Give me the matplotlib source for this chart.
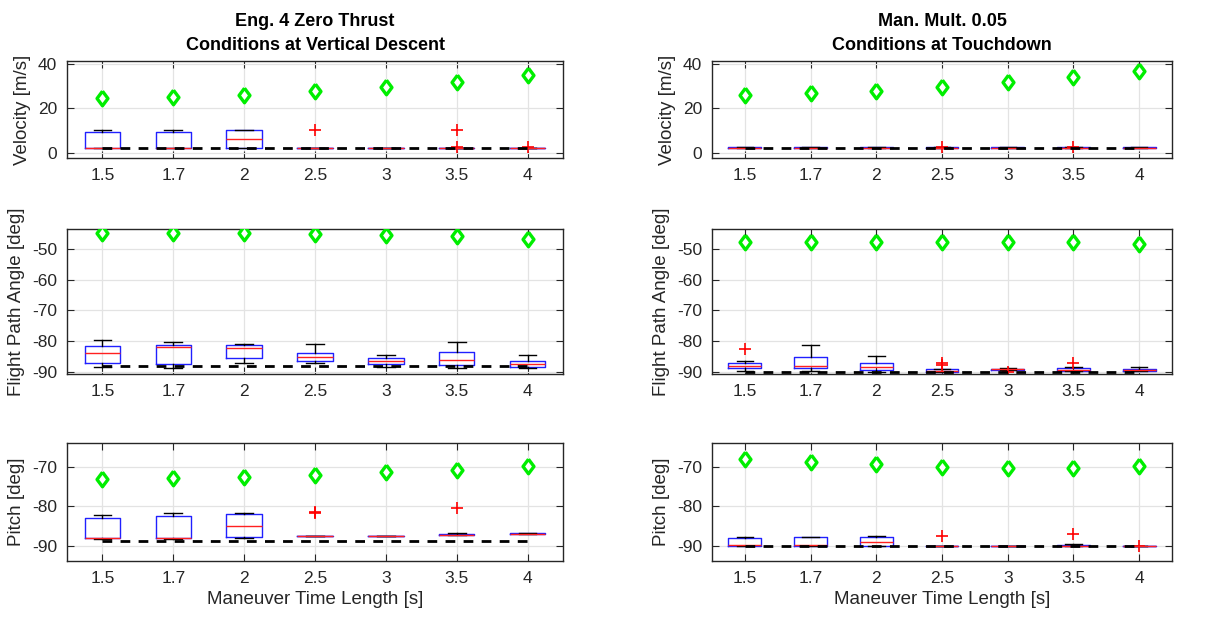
import numpy as np
import matplotlib
matplotlib.use("Agg")
import matplotlib.pyplot as plt

plt.rcParams['font.family'] = ['Liberation Sans', 'DejaVu Sans']
plt.rcParams['axes.unicode_minus'] = False

# x categories (maneuver time length)
times = ['1.5', '1.7', '2', '2.5', '3', '3.5', '4']

# ---------- left column: Eng. 4 Zero Thrust, vertical descent ----------
L_vel_diamond = [24.6, 25.0, 26.1, 27.7, 29.8, 32.0, 35.1]
L_vel_ref = 2.5
L_vel_q1 = [2.5, 2.5, 2.5, 2.5, 2.5, 2.5, 2.5]
L_vel_med = [2.5, 2.5, 6.1, 2.5, 2.5, 2.5, 2.5]
L_vel_q3 = [9.3, 9.6, 10.2, 2.5, 2.5, 2.5, 2.5]
L_vel_lo = [2.5, 2.5, 2.5, 2.5, 2.5, 2.5, 2.5]
L_vel_hi = [10.2, 10.3, 10.4, 2.5, 2.5, 2.5, 2.5]
L_vel_out = [[], [], [], [10.2], [], [10.5, 2.8], [2.6]]

L_fpa_diamond = [-44.6, -44.6, -44.8, -45.0, -45.3, -45.7, -46.6]
L_fpa_ref = -88.2
L_fpa_q1 = [-87.2, -87.4, -85.5, -86.6, -87.6, -87.9, -88.5]
L_fpa_med = [-83.9, -81.9, -82.2, -85.3, -86.5, -86.3, -87.5]
L_fpa_q3 = [-81.7, -81.4, -81.4, -84.0, -85.6, -83.7, -86.6]
L_fpa_lo = [-88.5, -88.8, -87.3, -87.3, -88.4, -88.7, -88.7]
L_fpa_hi = [-79.7, -80.2, -81.0, -80.9, -84.5, -80.3, -84.6]
L_fpa_out = [[], [], [], [], [], [], []]

L_pit_diamond = [-73.1, -72.9, -72.5, -72.0, -71.3, -70.7, -69.9]
L_pit_ref = -88.8
L_pit_q1 = [-88.0, -88.1, -87.8, -87.6, -87.5, -87.3, -86.95]
L_pit_med = [-88.0, -87.9, -85.0, -87.6, -87.5, -87.2, -86.9]
L_pit_q3 = [-83.0, -82.5, -82.0, -87.6, -87.5, -87.1, -86.85]
L_pit_lo = [-88.3, -88.2, -88.0, -87.6, -87.5, -87.3, -86.95]
L_pit_hi = [-82.1, -81.8, -81.8, -87.6, -87.5, -86.8, -86.8]
L_pit_out = [[], [], [], [-81.3, -81.6], [], [-80.4], []]

# ---------- right column: Man. Mult. 0.05, touchdown ----------
R_vel_diamond = [26.2, 27.0, 28.0, 29.8, 31.8, 34.1, 36.9]
R_vel_ref = 2.5
R_vel_q1 = [2.5] * 7
R_vel_med = [2.5] * 7
R_vel_q3 = [2.6] * 7
R_vel_lo = [2.5] * 7
R_vel_hi = [2.6] * 7
R_vel_out = [[], [], [], [2.8], [], [2.8], []]

R_fpa_diamond = [-47.7, -47.7, -47.7, -47.7, -47.7, -47.7, -48.4]
R_fpa_ref = -90.0
R_fpa_q1 = [-88.8, -88.8, -89.5, -90.0, -89.5, -89.7, -89.7]
R_fpa_med = [-88.1, -88.3, -88.6, -89.7, -89.3, -89.4, -89.4]
R_fpa_q3 = [-87.2, -85.2, -87.2, -89.3, -89.2, -88.7, -89.2]
R_fpa_lo = [-89.7, -89.7, -90.0, -90.0, -89.6, -89.9, -89.9]
R_fpa_hi = [-86.6, -81.2, -85.0, -89.3, -88.8, -88.4, -88.5]
R_fpa_out = [[-82.5], [], [], [-87.1, -88.0], [-90.0], [-87.1], []]

R_pit_diamond = [-68.1, -68.7, -69.3, -70.1, -70.3, -70.3, -69.9]
R_pit_ref = -90.0
R_pit_q1 = [-90.0, -90.0, -90.0, -90.0, -90.0, -90.0, -90.0]
R_pit_med = [-89.8, -89.8, -89.0, -90.0, -90.0, -90.0, -90.0]
R_pit_q3 = [-88.1, -87.8, -87.8, -90.0, -90.0, -89.8, -90.0]
R_pit_lo = [-90.0, -90.0, -90.0, -90.0, -90.0, -90.0, -90.0]
R_pit_hi = [-87.7, -87.7, -87.5, -90.0, -90.0, -89.6, -90.0]
R_pit_out = [[], [], [], [-87.5], [], [-87.0], [-90.0]]

txt = '#262626'
# matlab-like diamond, a bit narrower than tall
diamond_marker = [(0, 1), (0.75, 0), (0, -1), (-0.75, 0), (0, 1)]


def draw(ax, q1, med, q3, lo, hi, out, diamond, ref, ylim, yticks, ylabel):
    stats = []
    for i in range(len(times)):
        stats.append(dict(q1=q1[i], med=med[i], q3=q3[i], whislo=lo[i],
                          whishi=hi[i], fliers=out[i]))
    pos = np.arange(1, len(times) + 1)
    ax.bxp(stats, positions=pos, widths=0.5, showfliers=True,
           boxprops=dict(color='#2020ff', lw=1.0),
           medianprops=dict(color='#ff2020', lw=1.0),
           whiskerprops=dict(color='k', lw=1.0, ls='-'),
           capprops=dict(color='k', lw=1.0),
           flierprops=dict(marker='+', markeredgecolor='#ff0000',
                           markersize=8, mew=1.2, ls='none'))
    ax.plot([pos[0], pos[-1]], [ref, ref], color='k', lw=2.0,
            dashes=(3.5, 3.0), zorder=4)
    ax.plot(pos, diamond, ls='none', marker=diamond_marker, markersize=10.5,
            mfc='white', mec='#00ee00', mew=2.4, zorder=5)
    ax.set_xlim(0.5, 7.5)
    ax.set_ylim(*ylim)
    ax.set_yticks(yticks)
    ax.set_xticks(pos)
    ax.set_xticklabels(times)
    ax.grid(True, color='#e3e3e3', lw=0.9)
    ax.set_axisbelow(True)
    ax.tick_params(direction='in', top=True, right=True, length=5,
                   labelsize=12.5, colors=txt, pad=7)
    for s in ax.spines.values():
        s.set_color(txt)
        s.set_linewidth(1.0)
    ax.set_ylabel(ylabel, fontsize=13.5, color=txt, labelpad=5)


fig = plt.figure(figsize=(12.21, 6.28), dpi=100)

lx, lw_ = 67 / 1221, 496 / 1221
rx, rw = 712 / 1221, 460 / 1221
rows = [(1 - 158 / 628, 97 / 628), (1 - 374 / 628, 145 / 628),
        (1 - 561 / 628, 118 / 628)]

vel_lim = (-2.2, 41.3)
fpa_lim = (-90.8, -43.4)
pit_lim = (-93.8, -64.0)

ax = fig.add_axes([lx, rows[0][0], lw_, rows[0][1]])
draw(ax, L_vel_q1, L_vel_med, L_vel_q3, L_vel_lo, L_vel_hi, L_vel_out,
     L_vel_diamond, L_vel_ref, vel_lim, [0, 20, 40], 'Velocity [m/s]')
ax.set_title('Eng. 4 Zero Thrust\nConditions at Vertical Descent',
             fontsize=13, fontweight='bold', linespacing=1.5, pad=8)

ax = fig.add_axes([lx, rows[1][0], lw_, rows[1][1]])
draw(ax, L_fpa_q1, L_fpa_med, L_fpa_q3, L_fpa_lo, L_fpa_hi, L_fpa_out,
     L_fpa_diamond, L_fpa_ref, fpa_lim, [-90, -80, -70, -60, -50],
     'Flight Path Angle [deg]')

ax = fig.add_axes([lx, rows[2][0], lw_, rows[2][1]])
draw(ax, L_pit_q1, L_pit_med, L_pit_q3, L_pit_lo, L_pit_hi, L_pit_out,
     L_pit_diamond, L_pit_ref, pit_lim, [-90, -80, -70], 'Pitch [deg]')
ax.set_xlabel('Maneuver Time Length [s]', fontsize=13.5, color=txt)

ax = fig.add_axes([rx, rows[0][0], rw, rows[0][1]])
draw(ax, R_vel_q1, R_vel_med, R_vel_q3, R_vel_lo, R_vel_hi, R_vel_out,
     R_vel_diamond, R_vel_ref, vel_lim, [0, 20, 40], 'Velocity [m/s]')
ax.set_title('Man. Mult. 0.05\nConditions at Touchdown',
             fontsize=13, fontweight='bold', linespacing=1.5, pad=8)

ax = fig.add_axes([rx, rows[1][0], rw, rows[1][1]])
draw(ax, R_fpa_q1, R_fpa_med, R_fpa_q3, R_fpa_lo, R_fpa_hi, R_fpa_out,
     R_fpa_diamond, R_fpa_ref, fpa_lim, [-90, -80, -70, -60, -50],
     'Flight Path Angle [deg]')

ax = fig.add_axes([rx, rows[2][0], rw, rows[2][1]])
draw(ax, R_pit_q1, R_pit_med, R_pit_q3, R_pit_lo, R_pit_hi, R_pit_out,
     R_pit_diamond, R_pit_ref, pit_lim, [-90, -80, -70], 'Pitch [deg]')
ax.set_xlabel('Maneuver Time Length [s]', fontsize=13.5, color=txt)

fig.savefig('out.png', dpi=100)
